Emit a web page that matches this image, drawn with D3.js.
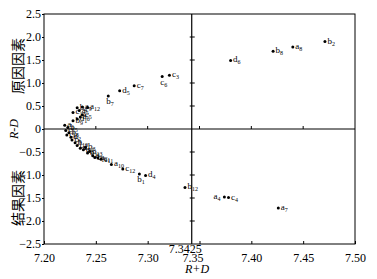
<!DOCTYPE html>
<html>
<head>
<meta charset="utf-8">
<script src="https://cdn.jsdelivr.net/npm/d3@7"></script>
<style>
  body { margin: 0; background: #fff; }
  svg { display: block; }
</style>
</head>
<body>
<div id="chart"></div>
<script>
// factor names (letter + index) and their R+D / R-D values
const factors = [
  "b2", "a8", "b8", "d6",
  "a4", "c4", "a7", "b12",
  "c3", "c6", "c7", "d5", "b7", "a12",
  "d4", "b1", "c12", "a10", "c11",
  "b4", "a9", "a5", "c13", "c5", "a6", "d1", "b9", "a1", "b5",
  "c1", "b6", "c8", "d2", "c9", "b10", "c2", "d3", "a2", "b11",
  "b13", "a3", "c10", "a11", "b3"
];
const rPlusD = [
  7.471, 7.440, 7.421, 7.380,
  7.374, 7.378, 7.426, 7.336,
  7.321, 7.314, 7.287, 7.273, 7.262, 7.242,
  7.298, 7.292, 7.276, 7.265, 7.255,
  7.232, 7.237, 7.234, 7.228, 7.237, 7.235, 7.232, 7.228, 7.220, 7.223,
  7.221, 7.224, 7.222, 7.226, 7.227, 7.230, 7.232, 7.235, 7.238, 7.242,
  7.244, 7.247, 7.249, 7.252, 7.240
];
const rMinusD = [
  1.90, 1.78, 1.69, 1.49,
  -1.48, -1.49, -1.72, -1.27,
  1.17, 1.14, 0.94, 0.83, 0.72, 0.47,
  -1.01, -0.98, -0.87, -0.77, -0.66,
  0.46, 0.48, 0.40, 0.36, 0.31, 0.26, 0.22, 0.18, 0.08, 0.03,
  -0.03, -0.08, -0.13, -0.18, -0.24, -0.30, -0.36, -0.42, -0.45, -0.52,
  -0.49, -0.58, -0.62, -0.63, -0.40
];

const xTicks = [7.20, 7.25, 7.30, 7.35, 7.40, 7.45, 7.50];
const yTicks = [-2.5, -2.0, -1.5, -1.0, -0.5, 0, 0.5, 1.0, 1.5, 2.0, 2.5];
const crossX = 7.3425;   // vertical split line
const crossY = 0;

// label placement tweaks
const labelBelow = new Set(["b1", "b7", "c6"]);
const labelLeft = new Set(["a4"]);

const W = 377, H = 279;
const mLeft = 44, mRight = 355, mTop = 14, mBottom = 244;
const serif = "'Liberation Serif', 'DejaVu Serif', serif";

const svg = d3.select("#chart").append("svg")
  .attr("width", W).attr("height", H);

const x = d3.scaleLinear().domain([7.20, 7.50]).range([mLeft, mRight]);
const y = d3.scaleLinear().domain([-2.5, 2.5]).range([mBottom, mTop]);

// frame
svg.append("rect")
  .attr("x", mLeft).attr("y", mTop)
  .attr("width", mRight - mLeft).attr("height", mBottom - mTop)
  .attr("fill", "none").attr("stroke", "#000").attr("stroke-width", 1);

// bottom axis
const xAxis = svg.append("g")
  .attr("transform", `translate(0,${mBottom})`)
  .call(d3.axisBottom(x).tickValues(xTicks).tickFormat(d3.format(".2f"))
    .tickSizeInner(-3).tickSizeOuter(0).tickPadding(9));
xAxis.select(".domain").remove();
xAxis.selectAll("text")
  .attr("font-family", serif).attr("font-size", 12).attr("fill", "#000")
  .attr("dx", d => d === 7.35 ? -7 : 0);
xAxis.selectAll("line").attr("stroke", "#000");

// left axis
const yAxis = svg.append("g")
  .attr("transform", `translate(${mLeft},0)`)
  .call(d3.axisLeft(y).tickValues(yTicks)
    .tickFormat(d => d === 0 ? "0" : d3.format(".1f")(d))
    .tickSizeInner(2).tickSizeOuter(0).tickPadding(1));
yAxis.select(".domain").remove();
yAxis.selectAll("text")
  .attr("font-family", serif).attr("font-size", 12).attr("fill", "#000");
yAxis.selectAll("line").attr("stroke", "#000");

// cross lines
svg.append("line")
  .attr("x1", mLeft).attr("x2", mRight)
  .attr("y1", y(crossY)).attr("y2", y(crossY))
  .attr("stroke", "#000");
svg.append("line")
  .attr("x1", x(crossX)).attr("x2", x(crossX))
  .attr("y1", mTop).attr("y2", mBottom)
  .attr("stroke", "#000").attr("stroke-width", 1.2);

// ticks on the horizontal zero line
svg.append("g").selectAll("line")
  .data(xTicks.slice(1, -1))
  .join("line")
  .attr("x1", d => x(d)).attr("x2", d => x(d))
  .attr("y1", y(crossY)).attr("y2", y(crossY) - 3)
  .attr("stroke", "#000");

// ticks on the vertical split line
svg.append("g").selectAll("line")
  .data(yTicks.filter(d => d !== 0 && Math.abs(d) !== 2.5))
  .join("line")
  .attr("x1", x(crossX) - 2).attr("x2", x(crossX) + 3)
  .attr("y1", d => y(d)).attr("y2", d => y(d))
  .attr("stroke", "#000");

// split value label
svg.append("text")
  .attr("x", x(crossX) + 10).attr("y", mBottom + 9)
  .attr("text-anchor", "end")
  .attr("font-family", serif).attr("font-size", 12)
  .text("7.3425");

// axis titles
svg.append("text")
  .attr("x", 197).attr("y", 273)
  .attr("text-anchor", "middle")
  .attr("font-family", serif).attr("font-size", 12).attr("font-style", "italic")
  .text("R+D");

svg.append("text")
  .attr("transform", `translate(18,${y(0)}) rotate(-90)`)
  .attr("text-anchor", "middle")
  .attr("font-family", serif).attr("font-size", 12).attr("font-style", "italic")
  .text("R-D");

const cjk = "'Noto Sans CJK SC', sans-serif";
svg.append("text")
  .attr("transform", `translate(23,66) rotate(-90)`)
  .attr("text-anchor", "middle")
  .attr("font-family", cjk).attr("font-size", 14)
  .text("原因因素");
svg.append("text")
  .attr("transform", `translate(23,198) rotate(-90)`)
  .attr("text-anchor", "middle")
  .attr("font-family", cjk).attr("font-size", 14)
  .text("结果因素");

// points
const pts = factors.map((f, i) => ({ name: f, rd: rPlusD[i], rm: rMinusD[i] }));

const g = svg.append("g");
g.selectAll("circle")
  .data(pts)
  .join("circle")
  .attr("cx", d => x(d.rd)).attr("cy", d => y(d.rm))
  .attr("r", 1.5).attr("fill", "#000");

const lab = g.selectAll("text")
  .data(pts)
  .join("text")
  .attr("font-family", serif).attr("font-size", 9)
  .attr("x", d => {
    if (labelLeft.has(d.name)) return x(d.rd) - 11;
    if (labelBelow.has(d.name)) return x(d.rd) - 2;
    return x(d.rd) + 2.5;
  })
  .attr("y", d => labelBelow.has(d.name) ? y(d.rm) + 8 : y(d.rm) + 2);
lab.append("tspan").text(d => d.name[0]);
lab.append("tspan")
  .attr("font-size", 6).attr("dy", 2)
  .text(d => d.name.slice(1));
</script>
</body>
</html>
